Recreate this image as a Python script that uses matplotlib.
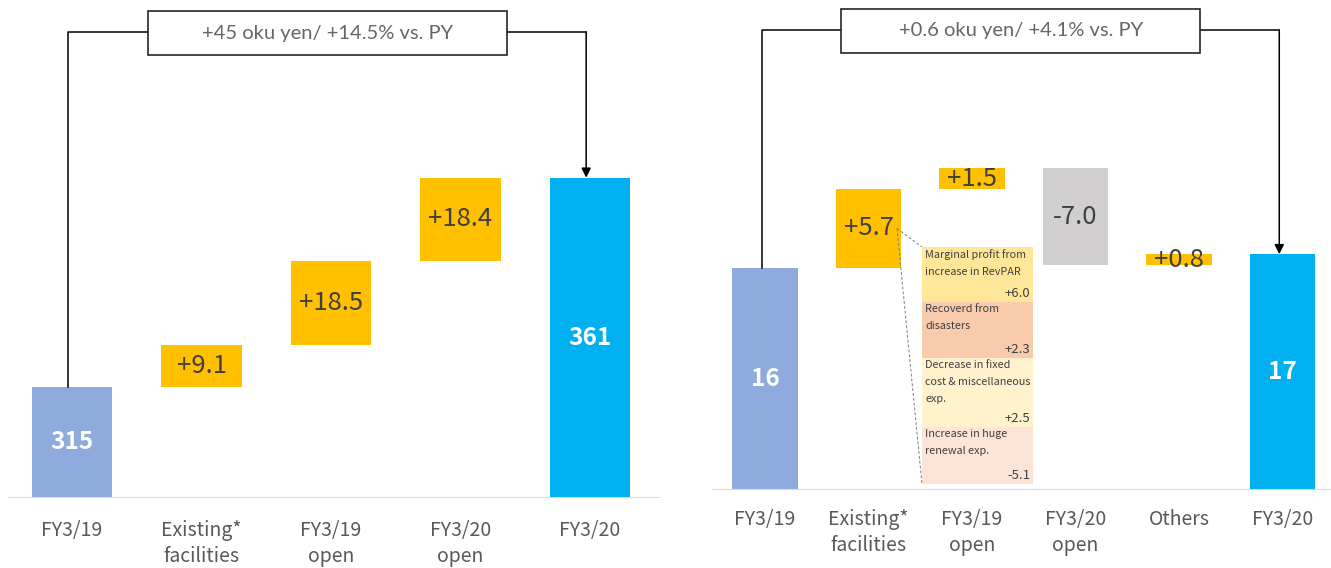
import numpy as np
import matplotlib
matplotlib.use('Agg')
import matplotlib.pyplot as plt
from matplotlib.patches import Rectangle

plt.rcParams['font.family'] = ['Noto Sans CJK JP', 'DejaVu Sans']

# 左: 売上高 (oku yen)
left_cats = ['FY3/19', 'Existing*\nfacilities', 'FY3/19\nopen', 'FY3/20\nopen', 'FY3/20']
left_start = 315
left_steps = [9.1, 18.5, 18.4]
left_end = 361
left_box = '+45 oku yen/ +14.5% vs. PY'

# 右: 利益 (oku yen)
right_cats = ['FY3/19', 'Existing*\nfacilities', 'FY3/19\nopen', 'FY3/20\nopen', 'Others', 'FY3/20']
right_start = 16
right_steps = [5.7, 1.5, -7.0, 0.8]
right_end = 17
right_box = '+0.6 oku yen/ +4.1% vs. PY'

# 既存施設の内訳
breakdown_labels = ['Marginal profit from\nincrease in RevPAR', 'Recoverd from\ndisasters',
                    'Decrease in fixed\ncost & miscellaneous\nexp.', 'Increase in huge\nrenewal exp.']
breakdown_values = [6.0, 2.3, 2.5, -5.1]
breakdown_colors = ['#FFE699', '#F8CBAD', '#FFF2CC', '#FCE4D6']

C_START, C_UP, C_DOWN, C_END = '#8FAADC', '#FFC000', '#D0CECE', '#00B0F0'
TXT = '#404040'
W, H = 1331, 568

fig = plt.figure(figsize=(W / 100, H / 100), dpi=100)


def to_data(ax, xp, yp):
    # 画像ピクセル(左上原点) -> データ座標
    return ax.transData.inverted().transform((xp, H - yp))


def waterfall(ax, cats, start, steps, end, width, ylim, tick_pad):
    n = len(cats)
    x = np.arange(n)
    bottoms, heights, colors = [0], [start], [C_START]
    level = start
    for s in steps:
        bottoms.append(level if s > 0 else level + s)
        heights.append(abs(s))
        colors.append(C_UP if s > 0 else C_DOWN)
        level += s
    bottoms.append(0)
    heights.append(end)
    colors.append(C_END)
    ax.bar(x, heights, width, bottom=bottoms, color=colors, zorder=2)
    ax.set_ylim(*ylim)

    # ラベル
    y0 = ylim[0]
    ax.text(0, (y0 + start) / 2, f'{start:g}', ha='center', va='center',
            color='white', fontsize=17.5, fontweight='bold')
    ax.text(n - 1, (y0 + end) / 2, f'{end:g}', ha='center', va='center',
            color='white', fontsize=17.5, fontweight='bold')
    for i, s in enumerate(steps):
        ax.text(i + 1, bottoms[i + 1] + heights[i + 1] / 2, f'{s:+.1f}',
                ha='center', va='center', color=TXT, fontsize=18.5)

    ax.axhline(y0, color='#D9D9D9', lw=1.5, zorder=3)
    for sp in ax.spines.values():
        sp.set_visible(False)
    ax.set_yticks([])
    ax.set_xticks(x)
    ax.set_xticklabels(cats, fontsize=14, color='#595959', linespacing=1.3)
    ax.tick_params(axis='x', length=0, pad=tick_pad)
    return x, bottoms, heights


def bracket(ax, xs, y_top_start, y_top_end, text, line_px, box_px, box_w_px):
    xl, xr = xs[0] - 0.03, xs[-1] - 0.03
    y_line = to_data(ax, 0, line_px)[1]
    xc_px = (ax.transData.transform((xl, 0))[0] + ax.transData.transform((xr, 0))[0]) / 2
    bx0, by0 = to_data(ax, xc_px - box_w_px / 2, box_px[1])
    bx1, by1 = to_data(ax, xc_px + box_w_px / 2, box_px[0])
    ax.plot([xl, xl, bx0], [y_top_start, y_line, y_line], color='black', lw=1.1,
            clip_on=False, zorder=4)
    ax.plot([bx1, xr], [y_line, y_line], color='black', lw=1.1, clip_on=False, zorder=4)
    ax.annotate('', xy=(xr, y_top_end), xytext=(xr, y_line),
                arrowprops=dict(arrowstyle='-|>', color='black', lw=1.1,
                                mutation_scale=14, shrinkA=0, shrinkB=0),
                annotation_clip=False, zorder=4)
    ax.add_patch(Rectangle((bx0, by0), bx1 - bx0, by1 - by0, facecolor='white',
                           edgecolor='#262626', lw=1.2, clip_on=False, zorder=5))
    ax.text((bx0 + bx1) / 2, (by0 + by1) / 2, text, ha='center', va='center',
            fontsize=14.5, color='#666666', family=['Lato', 'DejaVu Sans'], zorder=6)


# 左パネル
ax1 = fig.add_axes([8 / W, (H - 498) / H, 652 / W, 498 / H])
ax1.set_xlim(-0.494, 4.54)
xs1, b1, h1 = waterfall(ax1, left_cats, left_start, left_steps, left_end, 0.62,
                        (290.5, 400.1), 16)
bracket(ax1, xs1, left_start, left_end, left_box, 32, (11, 55), 359)

# 右パネル
ax2 = fig.add_axes([712 / W, (H - 490) / H, 619 / W, 490 / H])
ax2.set_xlim(-0.513, 5.47)
xs2, b2, h2 = waterfall(ax2, right_cats, right_start, right_steps, right_end, 0.63,
                        (0, 35.32), 14)
bracket(ax2, xs2, right_start, right_end, right_box, 30, (9, 53), 359)

# 内訳テーブル
tbl_left, tbl_top, tbl_w = 922, 247, 111
row_h = [55, 56, 69, 57]
y_px = tbl_top
for lab, val, col, rh in zip(breakdown_labels, breakdown_values, breakdown_colors, row_h):
    x0, y0 = to_data(ax2, tbl_left, y_px + rh)
    x1, y1 = to_data(ax2, tbl_left + tbl_w, y_px)
    ax2.add_patch(Rectangle((x0, y0), x1 - x0, y1 - y0, facecolor=col,
                            edgecolor='none', zorder=3))
    tx, ty = to_data(ax2, tbl_left + 3, y_px + 2)
    ax2.text(tx, ty, lab, ha='left', va='top', fontsize=7.8, color=TXT,
             linespacing=1.85, zorder=4)
    vx, vy = to_data(ax2, tbl_left + tbl_w - 3, y_px + rh - 2)
    ax2.text(vx, vy, f'{val:+.1f}', ha='right', va='bottom', fontsize=9.5, color=TXT, zorder=4)
    y_px += rh

# 点線 (既存施設バー -> 内訳)
sx = 1 + 0.63 / 2 - 0.04
sy = b2[1] + h2[1] / 2
tx0, ty_top = to_data(ax2, tbl_left, tbl_top)
_, ty_bot = to_data(ax2, tbl_left, y_px)
for ty in (ty_top, ty_bot):
    ax2.plot([sx, tx0], [sy, ty], ls=(0, (3, 2)), color='#808080', lw=0.7, zorder=4)

fig.savefig('out.png', dpi=100)
